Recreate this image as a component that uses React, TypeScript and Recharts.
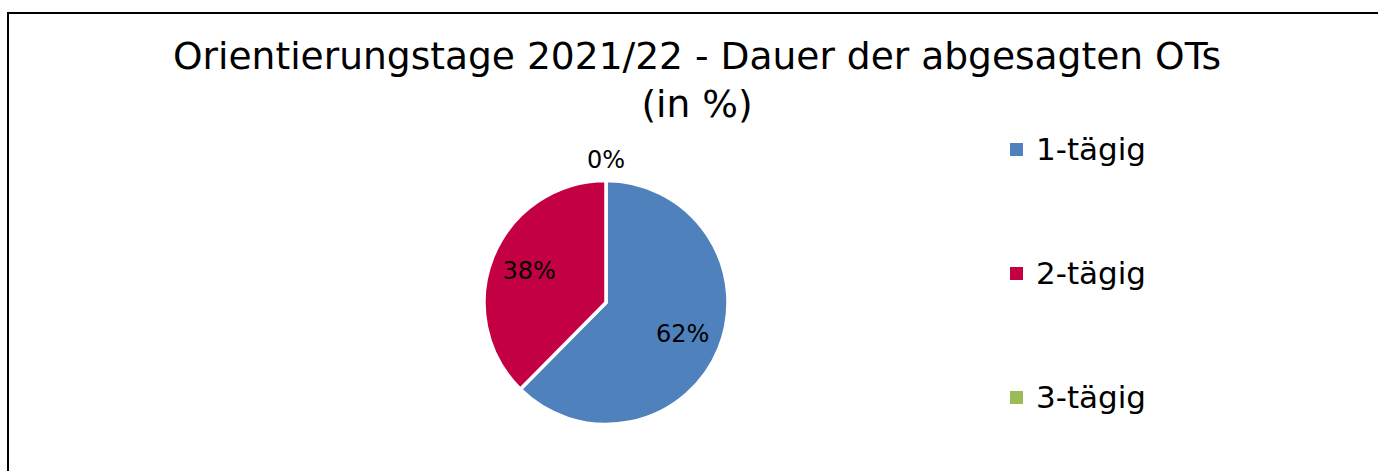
import React from "react";
import { PieChart, Pie, Cell, Legend } from "recharts";

const categories = ["1-tägig", "2-tägig", "3-tägig"];
const shares = [62.4, 37.6, 0];
const colors = ["#4F81BD", "#C30044", "#9BBB59"];
const titleLines = ["Orientierungstage 2021/22 - Dauer der abgesagten OTs", "(in %)"];

const data = categories.map((name, i) => ({ name, value: shares[i] }));

const FONT = "'DejaVu Sans', Verdana, sans-serif";
const RADIAN = Math.PI / 180;

const renderLabel = (props: any) => {
  const { cx, cy, midAngle, outerRadius, percent } = props;
  const r = percent === 0 ? outerRadius + 21 : outerRadius * 0.68;
  const x = cx + r * Math.cos(-midAngle * RADIAN);
  const y = cy + r * Math.sin(-midAngle * RADIAN);
  return (
    <text
      x={x}
      y={y}
      fill="#000"
      fontSize={24}
      fontFamily={FONT}
      textAnchor="middle"
      dominantBaseline="central"
    >
      {`${Math.round(percent * 100)}%`}
    </text>
  );
};

const renderLegend = (props: any) => {
  const { payload } = props;
  return (
    <div style={{ fontFamily: FONT }}>
      {(payload || []).map((entry: any, i: number) => (
        <div
          key={i}
          style={{ height: 124, display: "flex", alignItems: "center" }}
        >
          <div
            style={{
              width: 13,
              height: 13,
              background: entry.color,
              marginRight: 13,
              flex: "none",
            }}
          />
          <span style={{ fontSize: 31, color: "#000", lineHeight: "36px" }}>
            {entry.value}
          </span>
        </div>
      ))}
    </div>
  );
};

export default function App() {
  return (
    <div style={{ position: "absolute", left: 0, top: 0, width: 1378, height: 471, overflow: "hidden", background: "#fff" }}>
      <div
        style={{
          position: "absolute",
          left: 7,
          top: 12,
          width: 1400,
          height: 500,
          border: "2px solid #000",
          boxSizing: "border-box",
        }}
      />
      <div
        style={{
          position: "absolute",
          left: 0,
          top: 32,
          width: 1394,
          textAlign: "center",
          fontFamily: FONT,
          fontSize: 37.6,
          lineHeight: "48px",
          color: "#000",
        }}
      >
        {titleLines.map((t, i) => (
          <div key={i}>{t}</div>
        ))}
      </div>
      <div style={{ position: "absolute", left: 0, top: 0 }}>
        <PieChart width={1378} height={471}>
          <Pie
            data={data}
            dataKey="value"
            nameKey="name"
            cx={601}
            cy={297.5}
            outerRadius={122}
            startAngle={90}
            endAngle={-270}
            stroke="#fff"
            strokeWidth={3.5}
            label={renderLabel}
            labelLine={false}
            isAnimationActive={false}
          >
            {data.map((d, i) => (
              <Cell key={d.name} fill={colors[i]} />
            ))}
          </Pie>
          <Legend
            layout="vertical"
            align="right"
            verticalAlign="top"
            content={renderLegend}
            wrapperStyle={{ position: "absolute", left: 1010, top: 87, width: 250 }}
          />
        </PieChart>
      </div>
    </div>
  );
}
